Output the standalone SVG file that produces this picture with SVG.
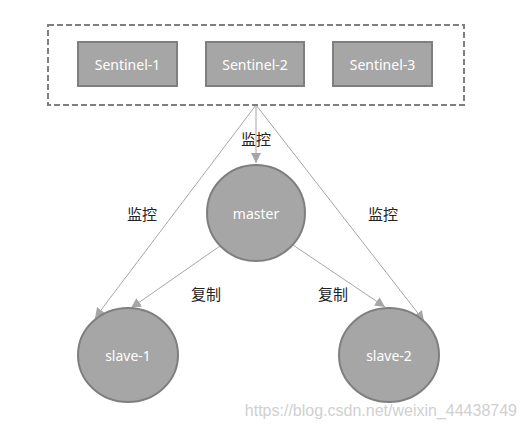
<svg xmlns="http://www.w3.org/2000/svg" width="526" height="427" viewBox="0 0 526 427">
<style>
.box{fill:#a6a6a6;stroke:#7f7f7f;stroke-width:2}
.nt{font-family:"Noto Sans","Liberation Sans",sans-serif;font-size:14px;fill:#ffffff;text-anchor:middle;dominant-baseline:central}
.lbl{font-family:"Noto Sans CJK SC","Noto Sans",sans-serif;font-size:15px;fill:#222;text-anchor:middle;dominant-baseline:central}
.ln{stroke:#a6a6a6;stroke-width:1;fill:none;marker-end:url(#ah)}
</style>
<defs>
<marker id="ah" viewBox="0 0 10 10" refX="10" refY="5" markerWidth="10" markerHeight="10" markerUnits="userSpaceOnUse" orient="auto">
<path d="M0,0 L10,5 L0,10 z" fill="#a6a6a6"/>
</marker>
</defs>
<rect width="526" height="427" fill="#ffffff"/>
<g id="connectors">
<line class="ln" x1="256" y1="105" x2="256" y2="163"/>
<line class="ln" x1="256" y1="105" x2="95" y2="318"/>
<line class="ln" x1="256" y1="105" x2="424" y2="321"/>
<line class="ln" x1="220" y1="246" x2="131" y2="308"/>
<line class="ln" x1="293" y1="245" x2="385" y2="307"/>
<text class="lbl" x="256" y="138">监控</text>
<text class="lbl" x="142" y="213">监控</text>
<text class="lbl" x="383" y="213">监控</text>
<text class="lbl" x="206" y="293">复制</text>
<text class="lbl" x="333" y="293">复制</text>
</g>
<g id="sentinel-group">
<rect x="48" y="25" width="416" height="80" fill="none" stroke="#7f7f7f" stroke-width="2" stroke-dasharray="6,3"/>
</g>
<g id="sentinel-1">
<rect class="box" x="78" y="42" width="99" height="44"/>
<text class="nt" x="127.5" y="64">Sentinel-1</text>
</g>
<g id="sentinel-2">
<rect class="box" x="206" y="42" width="98" height="44"/>
<text class="nt" x="255" y="64">Sentinel-2</text>
</g>
<g id="sentinel-3">
<rect class="box" x="333" y="42" width="99" height="44"/>
<text class="nt" x="382.5" y="64">Sentinel-3</text>
</g>
<g id="master">
<ellipse class="box" cx="256" cy="213" rx="49" ry="48"/>
<text class="nt" x="256" y="213">master</text>
</g>
<g id="slave-1">
<ellipse class="box" cx="128" cy="355" rx="50" ry="47"/>
<text class="nt" x="128" y="355">slave-1</text>
</g>
<g id="slave-2">
<ellipse class="box" cx="389" cy="355" rx="50" ry="47"/>
<text class="nt" x="389" y="355">slave-2</text>
</g>
<text x="517" y="410" font-family="Liberation Sans, Arial, sans-serif" font-size="16" fill="#d0d0d0" text-anchor="end" dominant-baseline="central">https://blog.csdn.net/weixin_44438749</text>
</svg>
